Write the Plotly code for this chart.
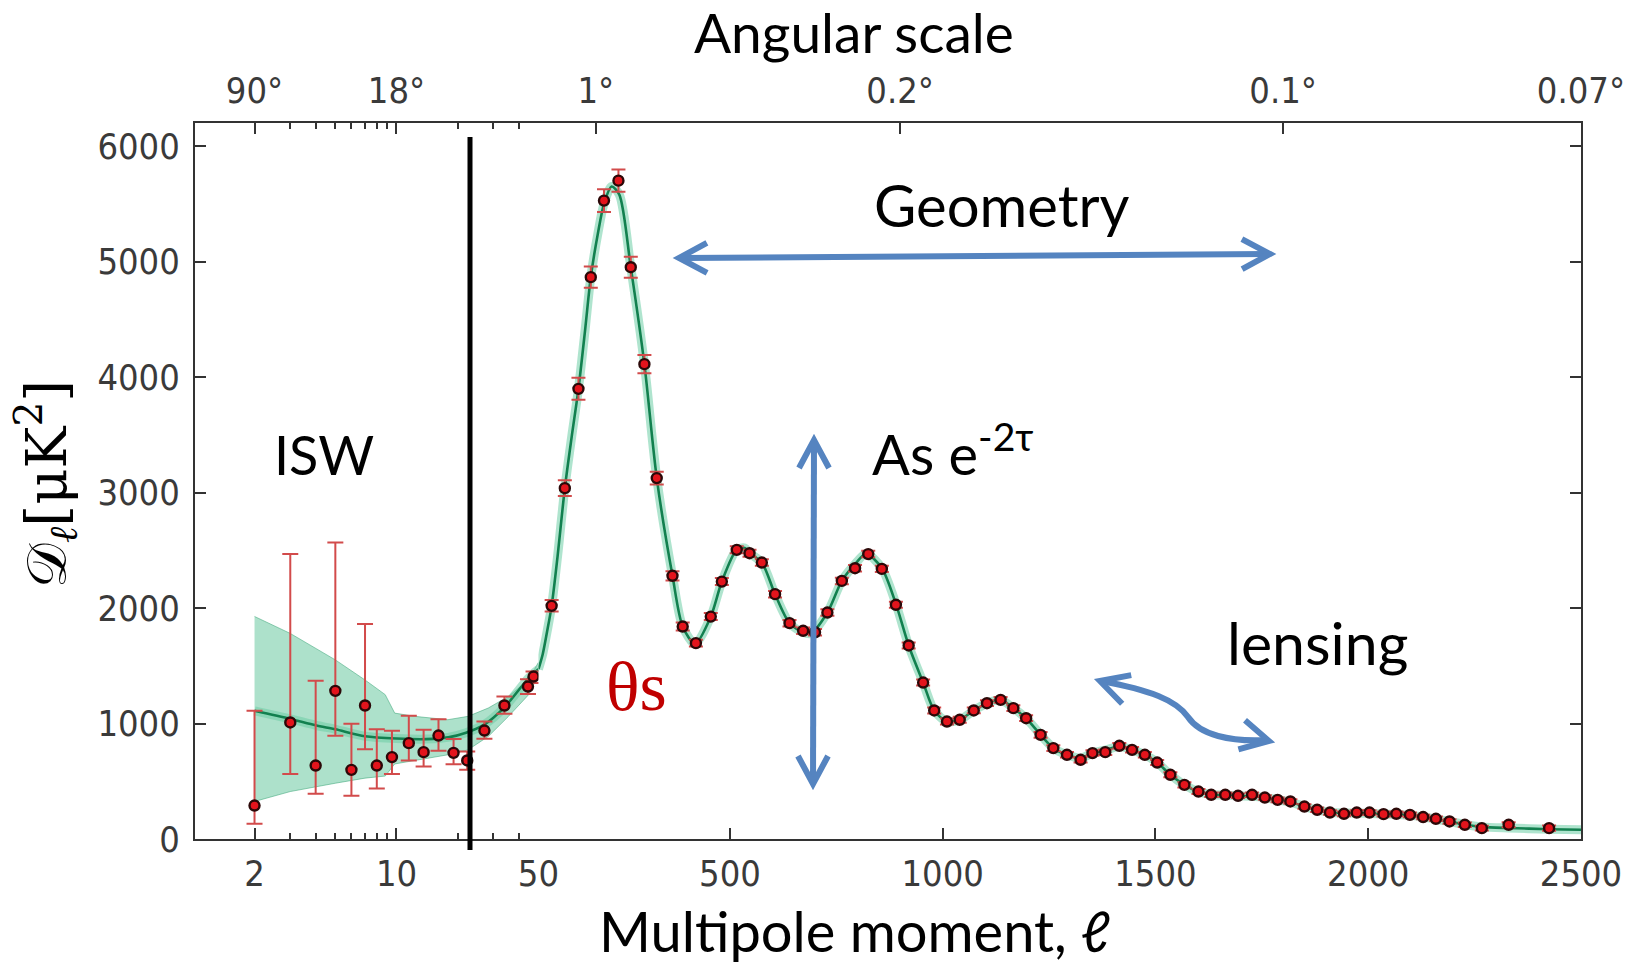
import numpy as np
import plotly.graph_objects as go

# ---------------- data ----------------
low_ell = [2, 3, 4, 5, 6, 7, 8, 9.5, 11.5, 13.6, 16.1, 19.1, 22.3, 27.1, 34, 44.4, 47.3]
low_D = [290, 1009, 636, 1283, 599, 1156, 636, 709, 830, 752, 896, 746, 680, 939, 1156, 1320, 1407]
low_err_up = [820, 1458, 734, 1284, 398, 705, 315, 228, 237, 193, 142, 119, 78, 78, 78, 64, 43]
low_err_down = [158, 447, 245, 390, 225, 378, 199, 147, 150, 124, 132, 98, 81, 71, 72, 65, 57]

high_ell = [81, 112, 144, 173, 204, 238, 267, 299, 328, 365,
            389, 420, 455, 481, 516, 546, 575, 606, 640, 672,
            700, 729, 763, 794, 825, 857, 890, 920, 954, 980,
            1010, 1040, 1073, 1104, 1136, 1166, 1196, 1230, 1260, 1292,
            1324, 1352, 1382, 1415, 1445, 1475, 1504, 1535, 1568, 1601,
            1631, 1664, 1694, 1727, 1757, 1787, 1817, 1850, 1880, 1910,
            1943, 1973, 2003, 2036, 2066, 2098, 2129, 2159, 2191, 2227,
            2267, 2330, 2425]
high_D = [2019, 3038, 3898, 4865, 5528, 5701, 4951, 4112, 3125, 2279,
          1840, 1696, 1926, 2229, 2504, 2475, 2394, 2120, 1869, 1803,
          1790, 1961, 2235, 2345, 2467, 2339, 2028, 1676, 1355, 1113,
          1017, 1032, 1113, 1176, 1205, 1133, 1046, 902, 787, 729,
          686, 744, 752, 807, 772, 729, 662, 556, 469, 411,
          383, 383, 374, 383, 359, 339, 325, 281, 253, 229,
          218, 229, 229, 215, 218, 209, 190, 175, 152, 123,
          94, 123, 94]
high_err = [50, 68, 95, 92, 98, 97, 90, 80, 55, 40,
            35, 30, 30, 30, 30, 30, 28, 28, 28, 28,
            28, 28, 28, 28, 28, 28, 26, 26, 26, 26,
            26, 26, 25, 25, 25, 25, 25, 25, 24, 24,
            24, 24, 24, 24, 24, 24, 22, 22, 22, 22,
            20, 20, 20, 20, 20, 20, 20, 20, 20, 20,
            20, 20, 20, 20, 20, 20, 20, 20, 20, 20,
            20, 22, 22]

model_ell = [2, 3, 4, 5, 7, 10, 14, 18, 22, 27, 34, 40, 45, 50,
             60, 70, 81, 95, 112, 128, 144, 160, 173, 190,
             204, 222, 240, 267, 299, 328, 365, 389, 418, 455,
             481, 516, 535, 546, 575, 606, 640, 672, 690, 729,
             763, 794, 820, 857, 890, 920, 954, 980, 1010, 1040,
             1073, 1104, 1136, 1166, 1196, 1230, 1260, 1292, 1324, 1352,
             1382, 1415, 1445, 1475, 1504, 1535, 1568, 1600, 1631, 1664,
             1694, 1727, 1757, 1787, 1817, 1850, 1880, 1910, 1943, 1973,
             2003, 2036, 2066, 2098, 2129, 2159, 2191, 2227, 2267, 2330,
             2425, 2500]
model_D = [1110, 1040, 985, 950, 890, 870, 865, 880, 920, 990, 1140, 1290, 1400, 1470,
           1600, 1790, 2019, 2450, 3038, 3480, 3898, 4420, 4865, 5250,
           5500, 5650, 5580, 4950, 4110, 3125, 2279, 1840, 1690, 1926,
           2229, 2504, 2520, 2475, 2394, 2120, 1869, 1790, 1780, 1961,
           2235, 2380, 2470, 2345, 2036, 1676, 1355, 1113, 1017, 1032,
           1113, 1176, 1205, 1133, 1046, 902, 787, 729, 700, 744,
           770, 800, 772, 729, 662, 556, 469, 411, 385, 380,
           374, 370, 359, 339, 320, 281, 253, 232, 225, 225,
           222, 215, 212, 205, 190, 172, 152, 125, 105, 95,
           85, 80]

band_ell = [2, 3, 5, 7, 8.8, 9.8, 12.3, 17.9, 22.5, 28.3, 35.6, 44.7, 50]
band_lo = [325, 411, 483, 527, 545, 650, 680, 729, 772, 888, 1062, 1249, 1420]
band_hi = [1927, 1780, 1551, 1377, 1250, 1090, 1062, 1033, 1062, 1134, 1235, 1379, 1530]

split_ell = 50
x_log_ticks = [2, 10]
x_log_minor = [3, 4, 5, 6, 7, 8, 9, 20, 30, 40]
x_lin_ticks = [50, 500, 1000, 1500, 2000, 2500]
top_log_ticks = [2, 10]
top_log_labels = ["90°", "18°"]
top_lin_ticks = [185, 900, 1800, 2500]
top_lin_labels = ["1°", "0.2°", "0.1°", "0.07°"]
y_ticks = [0, 1000, 2000, 3000, 4000, 5000, 6000]

assert len(high_ell) == len(high_D) == len(high_err)
assert len(model_ell) == len(model_D)

# ---------------- styling ----------------
W, H = 1649, 965
ML, MR, MT, MB = 195, 68, 123, 126
PW, PH = W - ML - MR, H - MT - MB
SPLIT = 0.2478
TICKFONT = dict(family="DejaVu Sans Condensed, Liberation Sans Narrow, sans-serif",
                size=36, color="#3a3a3a")
LABFONT = "Lato, Open Sans, sans-serif"
AX = "#333333"
GREEN = "#12804f"
HALO = "rgba(110,205,165,0.55)"
RED_ERR = "#d24b4b"
BLUE = "#5584c0"

fig = go.Figure()

m_ell = np.array(model_ell, dtype=float)
m_D = np.array(model_D, dtype=float)
logm = m_ell <= split_ell
linm = m_ell >= split_ell

# cosmic variance band (low ell)
fig.add_trace(go.Scatter(x=band_ell, y=band_lo, xaxis="x", yaxis="y", mode="lines",
                         line=dict(color="rgba(60,165,120,0.55)", width=1), hoverinfo="skip"))
fig.add_trace(go.Scatter(x=band_ell, y=band_hi, xaxis="x", yaxis="y", mode="lines", fill="tonexty",
                         fillcolor="rgba(105,200,160,0.55)",
                         line=dict(color="rgba(60,165,120,0.55)", width=1), hoverinfo="skip"))

# model curve halo + line
for mask, xa in ((logm, "x"), (linm, "x2")):
    fig.add_trace(go.Scatter(x=m_ell[mask], y=m_D[mask], xaxis=xa, yaxis="y", mode="lines",
                             line=dict(color=HALO, width=9, shape="spline", smoothing=0.8),
                             hoverinfo="skip"))
for mask, xa in ((logm, "x"), (linm, "x2")):
    fig.add_trace(go.Scatter(x=m_ell[mask], y=m_D[mask], xaxis=xa, yaxis="y", mode="lines",
                             line=dict(color=GREEN, width=2.6, shape="spline", smoothing=0.8),
                             hoverinfo="skip"))

marker = dict(symbol="circle", size=10, color="#e3141c", line=dict(color="#2b0808", width=2.4))
fig.add_trace(go.Scatter(x=low_ell, y=low_D, xaxis="x", yaxis="y", mode="markers", marker=marker,
                         error_y=dict(type="data", symmetric=False, array=low_err_up,
                                      arrayminus=low_err_down, color=RED_ERR, thickness=2, width=8)))
fig.add_trace(go.Scatter(x=high_ell, y=high_D, xaxis="x2", yaxis="y", mode="markers", marker=marker,
                         error_y=dict(type="data", array=high_err, color=RED_ERR, thickness=2, width=7)))

# empty traces so that the top and right axes get drawn
fig.add_trace(go.Scatter(x=top_log_ticks, y=[None] * len(top_log_ticks), xaxis="x3", yaxis="y",
                         mode="markers", hoverinfo="skip"))
fig.add_trace(go.Scatter(x=top_lin_ticks, y=[None] * len(top_lin_ticks), xaxis="x4", yaxis="y",
                         mode="markers", hoverinfo="skip"))
fig.add_trace(go.Scatter(x=x_lin_ticks, y=[None] * len(x_lin_ticks), xaxis="x2", yaxis="y2",
                         mode="markers", hoverinfo="skip"))

common = dict(showgrid=False, zeroline=False, showline=True, linecolor=AX, linewidth=2,
              ticks="inside", tickcolor=AX, tickwidth=1.6, tickfont=TICKFONT)

log_range = [0.008, np.log10(split_ell)]
fig.update_layout(
    width=W, height=H, margin=dict(l=ML, r=MR, t=MT, b=MB),
    paper_bgcolor="white", plot_bgcolor="white", showlegend=False,
    xaxis=dict(type="log", domain=[0, SPLIT], range=log_range, anchor="y",
               tickmode="array", tickvals=x_log_ticks, ticktext=[str(v) for v in x_log_ticks],
               ticklen=11, ticklabelstandoff=2,
               minor=dict(tickmode="array", tickvals=x_log_minor, ticks="inside", ticklen=6,
                          tickcolor=AX, tickwidth=1.6, showgrid=False),
               **common),
    xaxis2=dict(type="linear", domain=[SPLIT, 1], range=[split_ell, 2500], anchor="y",
                tickmode="array", tickvals=x_lin_ticks, ticktext=[str(v) for v in x_lin_ticks],
                ticklen=11, ticklabelstandoff=2, **common),
    xaxis3=dict(type="log", overlaying="x", side="top", range=log_range, anchor="y",
                tickmode="array", tickvals=top_log_ticks, ticktext=top_log_labels,
                ticklen=11, ticklabelstandoff=4,
                minor=dict(tickmode="array", tickvals=x_log_minor + [50], ticks="inside", ticklen=6,
                           tickcolor=AX, tickwidth=1.6, showgrid=False),
                **common),
    xaxis4=dict(type="linear", overlaying="x2", side="top", range=[split_ell, 2500], anchor="y",
                tickmode="array", tickvals=top_lin_ticks, ticktext=top_lin_labels,
                ticklen=11, ticklabelstandoff=4, **common),
    yaxis=dict(range=[0, 6200], domain=[0, 1], anchor="x", tickmode="array", tickvals=y_ticks,
               ticktext=[str(v) for v in y_ticks], ticklen=11, ticklabelstandoff=6, **common),
    yaxis2=dict(range=[0, 6200], overlaying="y", side="right", anchor="x2", tickmode="array",
                tickvals=y_ticks, showticklabels=False, ticklen=11, **common),
)


def P(X, Y):
    return f"{(X - ML) / PW:.5f},{(MT + PH - Y) / PH:.5f}"


def chevron(tx, ty, dx, dy, h=28, w=15):
    n = np.hypot(dx, dy)
    dx, dy = dx / n, dy / n
    nx, ny = -dy, dx
    a = (tx - h * dx + w * nx, ty - h * dy + w * ny)
    b = (tx - h * dx - w * nx, ty - h * dy - w * ny)
    return f"M {P(*a)} L {P(tx, ty)} L {P(*b)}"


def pshape(path, color=BLUE, width=6):
    fig.add_shape(type="path", path=path, xref="paper", yref="paper",
                  line=dict(color=color, width=width), layer="above")


# vertical black separator line
fig.add_shape(type="line", xref="paper", yref="paper", x0=(470 - ML) / PW, x1=(470 - ML) / PW,
              y0=(MT + PH - 137) / PH, y1=(MT + PH - 850) / PH, line=dict(color="black", width=5))

# Geometry arrow
pshape(f"M {P(681, 258)} L {P(1267, 254)}")
pshape(chevron(679, 258, -1, 0.007))
pshape(chevron(1270, 254, 1, -0.007))
# amplitude arrow
pshape(f"M {P(814, 443)} L {P(813, 781)}")
pshape(chevron(814, 440, 0, -1))
pshape(chevron(813, 784, 0, 1))
# lensing arrow
pshape(f"M {P(1101, 681)} C {P(1150, 690)} {P(1176, 700)} {P(1188, 717)} "
       f"C {P(1200, 735)} {P(1230, 742)} {P(1267, 740)}")
pshape(chevron(1100, 681, -0.95, -0.3))
pshape(chevron(1269, 741, 0.97, 0.22))


def label(text, X, Y, size, color="black", family=LABFONT, xanchor="center", angle=0):
    fig.add_annotation(text=text, xref="paper", yref="paper", x=(X - ML) / PW, y=(MT + PH - Y) / PH,
                       xanchor=xanchor, yanchor="middle", showarrow=False, textangle=angle,
                       font=dict(family=family, size=size, color=color))


label("Angular scale", 854, 32, 55)
label("Multipole moment, <i>ℓ</i>", 854, 930, 56)
label("𝒟<sub><i>ℓ</i></sub>[μK<sup>2</sup>]", 46, 484, 56,
      family="DejaVu Serif, Liberation Serif, serif", angle=-90)
label("Geometry", 1002, 204, 58)
label("ISW", 324, 454, 54)
label("As e<sup>-2τ</sup>", 870, 450, 56, xanchor="left")
label("lensing", 1317, 642, 59)
label("θs", 636, 686, 70, color="#c00000", family="Liberation Serif, serif")

fig.write_html("out.html")
